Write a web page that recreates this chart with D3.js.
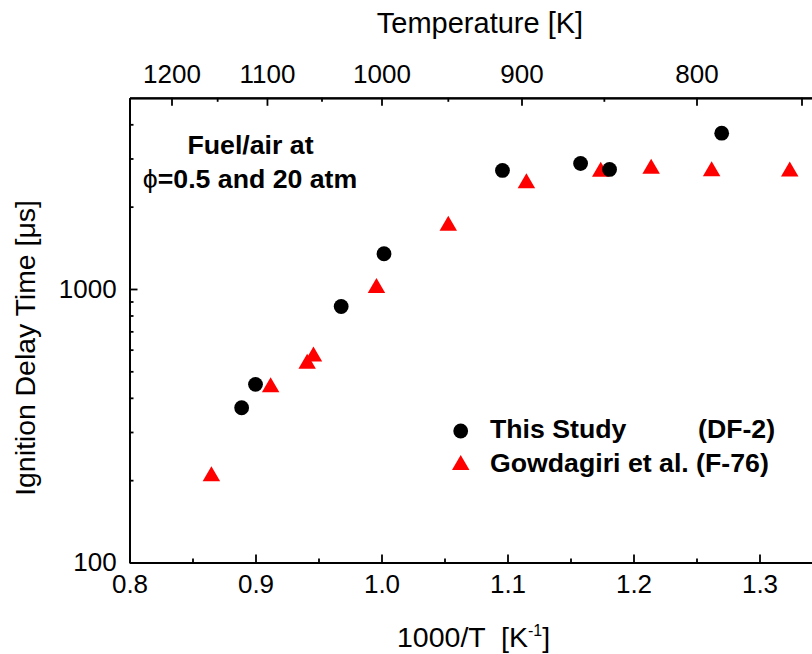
<!DOCTYPE html>
<meta charset="utf-8">
<head>
<title>Ignition Delay Time</title>
<script type="text/javascript" src="https://d3js.org/d3.v7.min.js"></script>
<style>
    body { margin: 0; background: #fff; }
    svg { font-family: "Liberation Sans", Arial, sans-serif; }
    .axis path, .axis line { stroke: #000; stroke-width: 1.8; }
    .axis text { font-size: 26px; fill: #000; }
</style>
</head>
<body>
<div id="chart"></div>
<script>

    // values
    var studyX = [0.889, 0.900, 0.968, 1.002, 1.096, 1.158, 1.181, 1.270];
    var studyY = [368, 448, 863, 1345, 2713, 2876, 2735, 3713];

    var gowdaX = [0.865, 0.912, 0.941, 0.946, 0.996, 1.053, 1.115, 1.174, 1.214, 1.262, 1.324];
    var gowdaY = [211, 447, 544, 578, 1030, 1739, 2489, 2740, 2810, 2754, 2747];

    var xMajor = [0.8, 0.9, 1.0, 1.1, 1.2, 1.3];
    var xMinor = [0.85, 0.95, 1.05, 1.15, 1.25, 1.35];
    var yMajor = [100, 1000];
    var yMinor = [200, 300, 400, 500, 600, 700, 800, 900, 2000, 3000, 4000];
    var tMajor = [1200, 1100, 1000, 900, 800];
    var tMinor = [1150, 1050, 950, 850];
    var tUnlabeled = [750];

    var width = 812, height = 654;
    var plot = {left: 129.5, right: 822.5, top: 97.8, bottom: 562.5};

    var svg = d3.select("#chart")
                .append("svg")
                .attr("width", width)
                .attr("height", height);

    var x = d3.scaleLinear().domain([0.8, 1.35]).range([plot.left, plot.right]);
    var y = d3.scaleLog().domain([100, 5000]).range([plot.bottom, plot.top]);

    // bottom axis
    svg.append("g").attr("class", "axis")
        .attr("transform", "translate(0," + plot.bottom + ")")
        .call(d3.axisBottom(x).tickValues(xMajor).tickSizeInner(-8).tickSizeOuter(0)
              .tickPadding(12.3).tickFormat(d3.format(".1f")));
    svg.append("g").attr("class", "axis")
        .attr("transform", "translate(0," + plot.bottom + ")")
        .call(d3.axisBottom(x).tickValues(xMinor).tickSizeInner(-4).tickSizeOuter(0).tickFormat(""));

    // left axis
    svg.append("g").attr("class", "axis")
        .attr("transform", "translate(" + plot.left + ",0)")
        .call(d3.axisLeft(y).tickValues(yMajor).tickSizeInner(-8).tickSizeOuter(0)
              .tickPadding(12.8).tickFormat(d3.format("d")));
    svg.append("g").attr("class", "axis")
        .attr("transform", "translate(" + plot.left + ",0)")
        .call(d3.axisLeft(y).tickValues(yMinor).tickSizeInner(-4).tickSizeOuter(0).tickFormat(""));

    // right axis (falls just outside the picture)
    svg.append("g").attr("class", "axis")
        .attr("transform", "translate(" + plot.right + ",0)")
        .call(d3.axisRight(y).tickValues(yMajor).tickSizeInner(-8).tickSizeOuter(0).tickFormat(""));

    // top axis: temperature, placed at 1000/T
    var inv = function (t) { return 1000 / t; };
    svg.append("g").attr("class", "axis")
        .attr("transform", "translate(0," + plot.top + ")")
        .call(d3.axisTop(x).tickValues(tMajor.map(inv)).tickSizeInner(-8).tickSizeOuter(0)
              .tickPadding(14.5).tickFormat(function (d) { return Math.round(1000 / d); }));
    svg.append("g").attr("class", "axis")
        .attr("transform", "translate(0," + plot.top + ")")
        .call(d3.axisTop(x).tickValues(tMinor.map(inv)).tickSizeInner(-4).tickSizeOuter(0).tickFormat(""));
    svg.append("g").attr("class", "axis")
        .attr("transform", "translate(0," + plot.top + ")")
        .call(d3.axisTop(x).tickValues(tUnlabeled.map(inv)).tickSizeInner(-8).tickSizeOuter(0).tickFormat(""));

    // axis titles
    svg.append("text")
        .attr("x", 480).attr("y", 33.3)
        .attr("text-anchor", "middle")
        .style("font-size", "29px")
        .text("Temperature [K]");

    var xt = svg.append("text")
        .attr("x", 397).attr("y", 646.5)
        .style("font-size", "28.5px")
        .style("white-space", "pre");
    xt.append("tspan").text("1000/T  [K");
    xt.append("tspan").attr("dy", -11).style("font-size", "16px").text("-1");
    xt.append("tspan").attr("dy", 11).text("]");

    svg.append("text")
        .attr("transform", "translate(35,348) rotate(-90)")
        .attr("text-anchor", "middle")
        .style("font-size", "28.4px")
        .text("Ignition Delay Time [\u03bcs]");

    // annotation
    svg.append("text")
        .attr("x", 250.5).attr("y", 154)
        .attr("text-anchor", "middle")
        .style("font-size", "26.7px").style("font-weight", "bold")
        .text("Fuel/air at");
    var an = svg.append("text")
        .attr("x", 250).attr("y", 188)
        .attr("text-anchor", "middle")
        .style("font-size", "26.7px").style("font-weight", "bold");
    an.append("tspan").style("font-weight", "normal").text("\u03d5");
    an.append("tspan").text("=0.5 and 20 atm");

    // triangle centred on its bounding box
    function tri(cx, cy, w, h) {
        return "M" + (cx - w / 2) + "," + (cy + h / 2) +
               "L" + (cx + w / 2) + "," + (cy + h / 2) +
               "L" + cx + "," + (cy - h / 2) + "Z";
    }

    // points
    svg.append("g").selectAll("path")
        .data(d3.range(gowdaX.length))
        .enter().append("path")
        .attr("d", function (i) { return tri(x(gowdaX[i]), y(gowdaY[i]), 17.5, 15); })
        .attr("fill", "#ff0000");

    svg.append("g").selectAll("circle")
        .data(d3.range(studyX.length))
        .enter().append("circle")
        .attr("cx", function (i) { return x(studyX[i]); })
        .attr("cy", function (i) { return y(studyY[i]); })
        .attr("r", 7.4)
        .attr("fill", "#000");

    // legend
    var lg = svg.append("g");
    lg.append("circle").attr("cx", 460.7).attr("cy", 431).attr("r", 7.4).attr("fill", "#000");
    lg.append("path").attr("d", tri(460.7, 462.5, 17.5, 15)).attr("fill", "#ff0000");
    lg.append("text").attr("x", 490).attr("y", 437.5)
        .style("font-size", "26.7px").style("font-weight", "bold").text("This Study");
    lg.append("text").attr("x", 698).attr("y", 437.5)
        .style("font-size", "26.7px").style("font-weight", "bold").text("(DF-2)");
    lg.append("text").attr("x", 490).attr("y", 471.7)
        .style("font-size", "26.7px").style("font-weight", "bold").text("Gowdagiri et al. (F-76)");

</script>
</body>
</html>
